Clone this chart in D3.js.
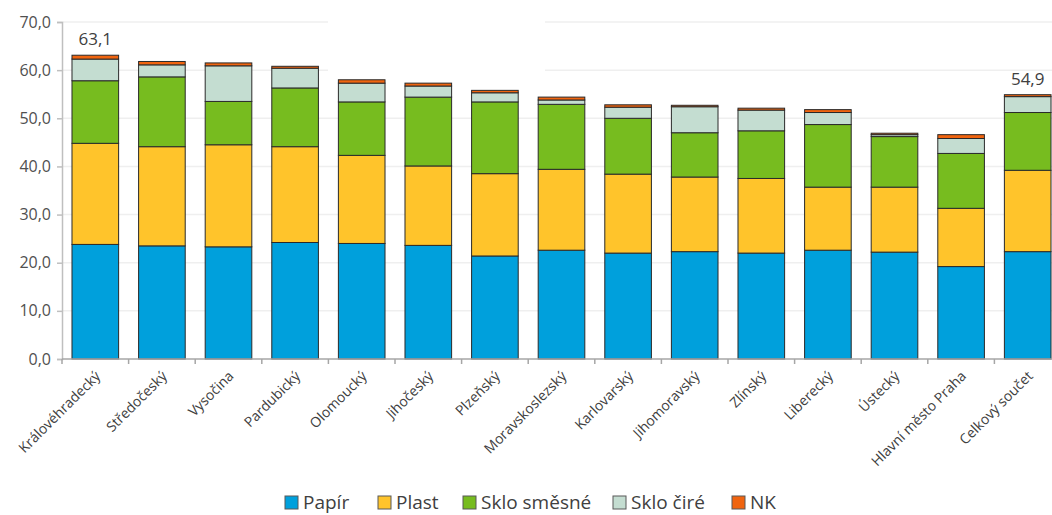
<!DOCTYPE html>
<html>
<head>
<meta charset="utf-8">
<script src="https://cdn.jsdelivr.net/npm/d3@7"></script>
<style>
  body { margin: 0; background: #fff; }
  svg { display: block; font-family: "Open Sans", sans-serif; }
</style>
</head>
<body>
<div id="chart"></div>
<script>
// regions, sorted as in the report
var regions = ["Královéhradecký", "Středočeský", "Vysočina", "Pardubický", "Olomoucký", "Jihočeský", "Plzeňský",
  "Moravskoslezský", "Karlovarský", "Jihomoravský", "Zlínský", "Liberecký", "Ústecký", "Hlavní město Praha", "Celkový součet"]

// kg per inhabitant, per material
var papir =        [23.8, 23.5, 23.3, 24.2, 24.0, 23.6, 21.4, 22.6, 22.0, 22.3, 22.0, 22.6, 22.2, 19.2, 22.3]
var plast =        [21.0, 20.6, 21.2, 19.9, 18.3, 16.5, 17.1, 16.8, 16.4, 15.5, 15.5, 13.1, 13.5, 12.1, 16.9]
var skloSmesne =   [13.0, 14.5,  9.0, 12.2, 11.1, 14.3, 14.9, 13.5, 11.6,  9.2,  9.9, 13.0, 10.5, 11.4, 12.0]
var skloCire =     [ 4.5,  2.5,  7.4,  4.1,  3.9,  2.3,  1.9,  0.9,  2.3,  5.4,  4.3,  2.5,  0.4,  3.1,  3.3]
var nk =           [ 0.8,  0.7,  0.6,  0.4,  0.7,  0.6,  0.5,  0.6,  0.5,  0.3,  0.4,  0.6,  0.3,  0.8,  0.4]

var seriesNames = ["Papír", "Plast", "Sklo směsné", "Sklo čiré", "NK"]
var seriesColors = ["#00a0dc", "#ffc42b", "#77bc1f", "#c4ddd1", "#f0640f"]

var yTicks = [0, 10, 20, 30, 40, 50, 60, 70]
// only first and last bar carry a total label
var labelled = ["Královéhradecký", "Celkový součet"]

var width = 1052, height = 515
var margin = {left: 62, top: 22, right: -9, bottom: 156}

var svg = d3.select("#chart").append("svg")
  .attr("width", width)
  .attr("height", height)

var g = svg.append("g").attr("transform", "translate(" + margin.left + "," + margin.top + ")")
var w = width - margin.left - margin.right
var h = height - margin.top - margin.bottom

// build table for d3.stack
var table = regions.map((r, i) => ({
  region: r, "Papír": papir[i], "Plast": plast[i], "Sklo směsné": skloSmesne[i], "Sklo čiré": skloCire[i], "NK": nk[i]
}))
var stacked = d3.stack().keys(seriesNames)(table)

var x = d3.scaleBand().domain(regions).range([0, w]).paddingInner(0.3).paddingOuter(0.15)
var y = d3.scaleLinear().domain([0, 70]).range([h, 0])
var color = d3.scaleOrdinal().domain(seriesNames).range(seriesColors)

// faint gridlines
g.append("g").selectAll("line")
  .data(yTicks.slice(1))
  .enter().append("line")
  .attr("x1", 0).attr("x2", w)
  .attr("y1", d => y(d)).attr("y2", d => y(d))
  .attr("stroke", "#efefef")
  .attr("stroke-width", 1.5)

// empty (white) title box that hides part of the top gridlines
g.append("rect")
  .attr("x", 266).attr("y", -8)
  .attr("width", 217).attr("height", 60)
  .attr("fill", "#fff")

// bars
g.append("g").selectAll("g")
  .data(stacked)
  .enter().append("g")
  .attr("fill", d => color(d.key))
  .selectAll("rect")
  .data(d => d)
  .enter().append("rect")
  .attr("x", d => x(d.data.region))
  .attr("width", x.bandwidth())
  .attr("y", d => y(d[1]))
  .attr("height", d => y(d[0]) - y(d[1]))
  .attr("stroke", "#2a2a2a")
  .attr("stroke-width", 1)

// totals over first and last bar
var totals = table.filter(d => labelled.includes(d.region))
g.append("g").selectAll("text")
  .data(totals)
  .enter().append("text")
  .attr("x", d => x(d.region) + x.bandwidth() / 2)
  .attr("y", d => y(d3.sum(seriesNames, k => d[k])) - 10)
  .attr("text-anchor", "middle")
  .attr("font-size", 17)
  .attr("fill", "#404040")
  .text(d => d3.format(".1f")(d3.sum(seriesNames, k => d[k])).replace(".", ","))

// y axis
var yAxis = d3.axisLeft(y).tickValues(yTicks).tickSize(5).tickFormat(d => d3.format(".1f")(d).replace(".", ","))
var ya = g.append("g").call(yAxis)
ya.select(".domain").attr("stroke", "#bfbfbf").attr("stroke-width", 1.5)
ya.selectAll(".tick line").attr("stroke", "#bfbfbf").attr("stroke-width", 1.5)
ya.selectAll(".tick text").attr("font-size", 16).attr("fill", "#505050").attr("x", -11)
  .style("font-family", "Open Sans, sans-serif")

// x axis, ticks between categories
var xa = g.append("g").attr("transform", "translate(0," + h + ")")
xa.append("line").attr("x1", 0).attr("x2", w).attr("stroke", "#a6a6a6").attr("stroke-width", 1.5)
var step = x.step()
xa.selectAll(".sep")
  .data(d3.range(regions.length + 1))
  .enter().append("line")
  .attr("x1", i => i * step).attr("x2", i => i * step)
  .attr("y1", 0).attr("y2", 5)
  .attr("stroke", "#a6a6a6").attr("stroke-width", 1.5)

xa.selectAll(".lbl")
  .data(regions)
  .enter().append("text")
  .attr("transform", d => "translate(" + (x(d) + x.bandwidth() / 2 + 6) + ",18) rotate(-45)")
  .attr("text-anchor", "end")
  .attr("font-size", 14)
  .attr("fill", "#404040")
  .text(d => d)

// legend
var legendX = [285, 378, 463, 613, 732]
var legend = svg.append("g").selectAll("g")
  .data(seriesNames)
  .enter().append("g")
  .attr("transform", (d, i) => "translate(" + legendX[i] + ",496)")
legend.append("rect")
  .attr("width", 13).attr("height", 13)
  .attr("fill", d => color(d))
  .attr("stroke", "#595959")
legend.append("text")
  .attr("x", 18).attr("y", 13)
  .attr("font-size", 19)
  .attr("fill", "#404040")
  .text(d => d)
</script>
</body>
</html>
